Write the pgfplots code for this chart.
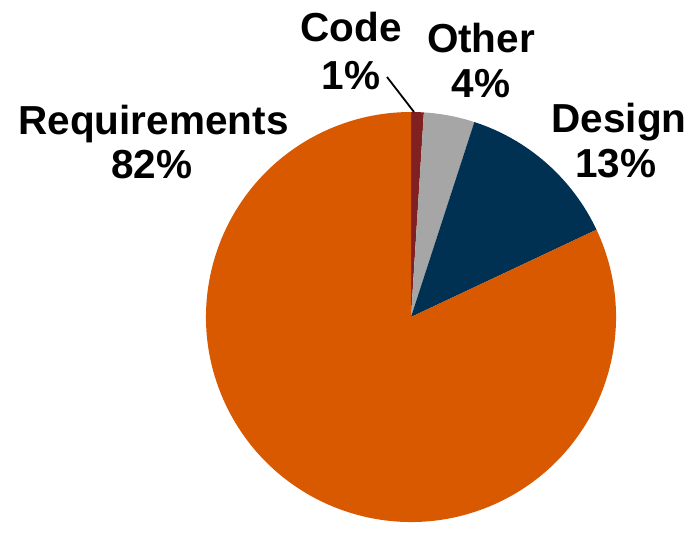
\documentclass[border=0pt]{standalone}
\usepackage{pgfplots}
\pgfplotsset{compat=1.18}
\usepackage{pgfplotstable}
\usepackage{fontspec}
\setmainfont{Liberation Sans}
\definecolor{reqorange}{RGB}{217,89,0}
\definecolor{designnavy}{RGB}{0,49,83}
\definecolor{othergray}{RGB}{166,166,166}
\definecolor{codered}{RGB}{128,32,32}
% value table (percent)
\pgfplotstableread{
label value
Code 1
Other 4
Design 13
Requirements 82
}\piedata
% slice: #1 cumulative percent before slice, #2 percent, #3 colour
\newcommand\slice[3]{%
  \fill[#3] (axis cs:411,208) -- +({90-3.6*(#1)}:205pt)
    arc[start angle={90-3.6*(#1)}, end angle={90-3.6*((#1)+(#2))}, radius=205pt] -- cycle;}
\begin{document}
\begin{tikzpicture}
\begin{axis}[
  width=687pt, height=525pt, scale only axis,
  xmin=0, xmax=687, ymin=0, ymax=525,
  hide axis, clip=false,
]
\addplot[draw=none] coordinates {(0,0) (687,525)};
\slice{0}{1}{codered}
\slice{1}{4}{othergray}
\slice{5}{13}{designnavy}
\slice{18}{82}{reqorange}
\addplot[black, line width=1.8pt] coordinates {(387,448) (414,413)};
\begin{scope}[every node/.style={font=\fontsize{40.5}{44}\selectfont\bfseries, anchor=base, inner sep=0pt}]
\node at (axis cs:153.5,390) {Requirements};
\node at (axis cs:152,346) {82\%};
\node at (axis cs:351,483) {Code};
\node at (axis cs:351,435) {1\%};
\node at (axis cs:481,472) {Other};
\node at (axis cs:481,427) {4\%};
\node at (axis cs:619,392) {Design};
\node at (axis cs:616,347) {13\%};
\end{scope}
\end{axis}
\end{tikzpicture}
\end{document}
